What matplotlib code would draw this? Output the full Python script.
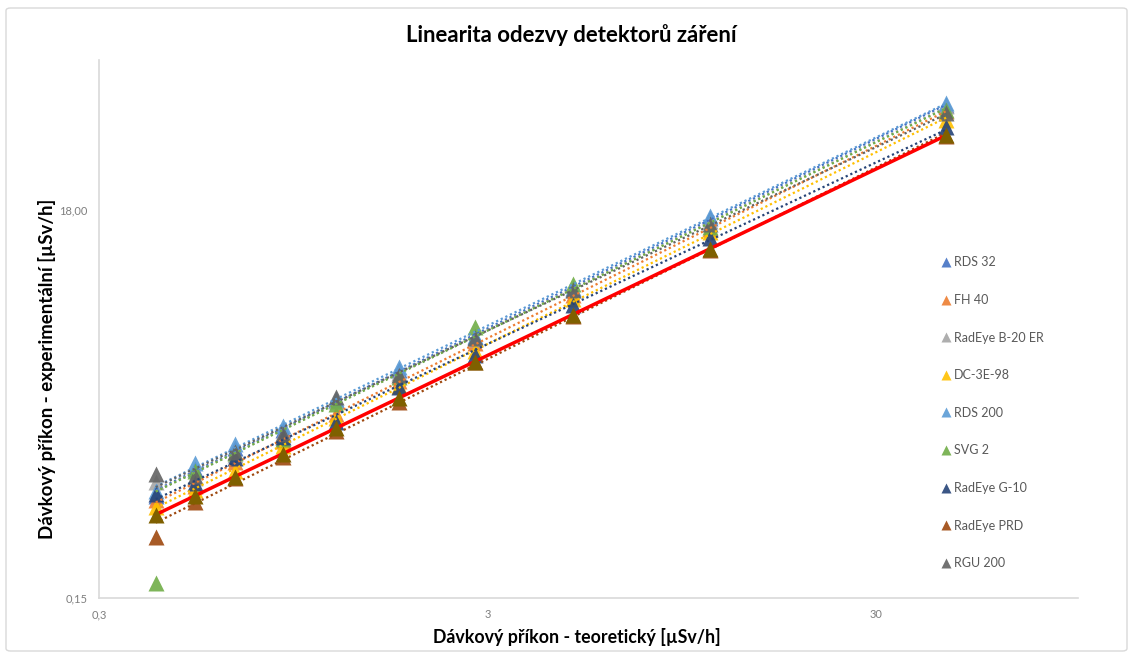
import numpy as np
import matplotlib
matplotlib.use("Agg")
import matplotlib.pyplot as plt
from matplotlib.patches import FancyBboxPatch

plt.rcParams['font.family'] = ['Lato', 'DejaVu Sans']

# Teoreticky prikon (osa x) a namerene hodnoty jednotlivych detektoru
x_teor = [0.42, 0.53, 0.67, 0.89, 1.22, 1.77, 2.78, 4.96, 11.2, 45.4]

rds32   = [0.53, 0.74, 0.96, 1.20, 1.72, 2.50, 3.75, 6.80, 16.4, 66.0]
fh40    = [0.50, 0.60, 0.80, 1.04, 1.45, 2.18, 3.50, 6.30, 14.3, 61.0]
b20     = [0.63, 0.66, 0.88, 1.15, 1.70, 2.40, 3.65, 6.75, 15.8, 65.0]
dc3e    = [0.46, 0.57, 0.72, 0.98, 1.38, 2.05, 3.15, 6.05, 13.7, 54.5]
rds200  = [0.56, 0.79, 1.00, 1.25, 1.76, 2.60, 3.83, 6.90, 16.8, 68.0]
svg2    = [0.18, 0.72, 0.90, 1.07, 1.65, 2.30, 4.28, 7.20, 14.7, 62.0]
g10     = [0.54, 0.62, 0.84, 1.10, 1.32, 2.03, 3.00, 5.60, 12.8, 50.0]
prd     = [0.32, 0.49, 0.66, 0.86, 1.18, 1.68, 2.75, 4.90, 11.0, 45.0]
rgu200  = [0.69, 0.68, 0.91, 1.13, 1.80, 2.35, 3.70, 6.70, 15.1, 60.0]

nazvy = ["RDS 32", "FH 40", "RadEye B-20 ER", "DC-3E-98", "RDS 200",
         "SVG 2", "RadEye G-10", "RadEye PRD", "RGU 200"]
data = [rds32, fh40, b20, dc3e, rds200, svg2, g10, prd, rgu200]
barvy = ["#4472C4", "#ED7D31", "#A5A5A5", "#FFC000", "#5B9BD5",
         "#70AD47", "#264478", "#9E480E", "#636363"]
# od ktereho bodu se pocita spojnice trendu (SVG 2 - prvni bod odlehly)
trend_od = [0, 0, 0, 0, 0, 1, 0, 0, 0]

W, H = 1133, 659
fig = plt.figure(figsize=(W / 100, H / 100), dpi=100)
ax = fig.add_axes([99 / W, 1 - 598 / H, (1078 - 99) / W, (598 - 60) / H])

# ramecek grafu
fig.patches.append(FancyBboxPatch((6 / W, 8 / H), 1 - 12 / W, 1 - 16 / H,
                                  boxstyle="round,pad=0,rounding_size=0.004",
                                  transform=fig.transFigure, fill=False,
                                  edgecolor="#D9D9D9", lw=1.0))

x = np.array(x_teor)
handles = []
for y, c, n in zip(data, barvy, nazvy):
    h, = ax.plot(x, y, linestyle="none", marker="^", ms=12, color=c,
                 alpha=0.9, mec="none", label=n, zorder=3)
    handles.append(h)

# mocninne spojnice trendu
for y, c, od in zip(data, barvy, trend_od):
    y = np.array(y)
    k, q = np.polyfit(np.log10(x[od:]), np.log10(y[od:]), 1)
    xx = np.array([x.min(), x.max()])
    ax.plot(xx, 10 ** q * xx ** k, linestyle=(0, (1, 1.3)), lw=1.6,
            color=c, zorder=4)

# teoreticka zavislost
ax.plot(x, x, color="#FF0000", lw=2.5, marker="^", ms=12, mfc="#7F6000",
        mec="none", zorder=5)

ax.set_xscale("log")
ax.set_yscale("log")
ax.set_xlim(0.3, 99)
ax.set_ylim(0.15, 115)
ax.set_xticks([0.3, 3, 30])
ax.set_xticklabels(["0,3", "3", "30"])
ax.set_yticks([0.15, 18])
ax.set_yticklabels(["0,15", "18,00"])
ax.minorticks_off()
ax.tick_params(length=0, labelsize=8, labelcolor="#7F7F7F", pad=8)

for s in ["top", "right"]:
    ax.spines[s].set_visible(False)
for s in ["left", "bottom"]:
    ax.spines[s].set_color("#D9D9D9")
    ax.spines[s].set_linewidth(1.2)

titulek = fig.text(571 / W, 1 - 35 / H, "Linearita odezvy detektorů záření",
                   ha="center", va="center", fontsize=14, fontweight="bold")
popis_x = fig.text(577 / W, 1 - 637 / H, "Dávkový příkon - teoretický [µSv/h]",
                   ha="center", va="center", fontsize=12, fontweight="bold")
popis_y = fig.text(47 / W, 1 - 369 / H,
                   "Dávkový příkon - experimentální [µSv/h]", rotation=90,
                   ha="center", va="center", fontsize=12, fontweight="bold")

# dorovnani velikosti pisma podle sirky textu v predloze
r = fig.canvas.get_renderer()
for t, delka in [(titulek, 332), (popis_x, 285), (popis_y, 338)]:
    bb = t.get_window_extent(r)
    d = max(bb.width, bb.height)
    t.set_fontsize(t.get_fontsize() * delka / d)

leg = ax.legend(handles=handles, loc="upper left",
                bbox_to_anchor=(931 / W, 1 - 245 / H),
                bbox_transform=fig.transFigure,
                frameon=False, fontsize=9, labelspacing=2.05,
                handlelength=0.6, handletextpad=0.3, markerscale=0.55)
for t in leg.get_texts():
    t.set_color("#595959")

fig.savefig("out.png", dpi=100, facecolor="white")
